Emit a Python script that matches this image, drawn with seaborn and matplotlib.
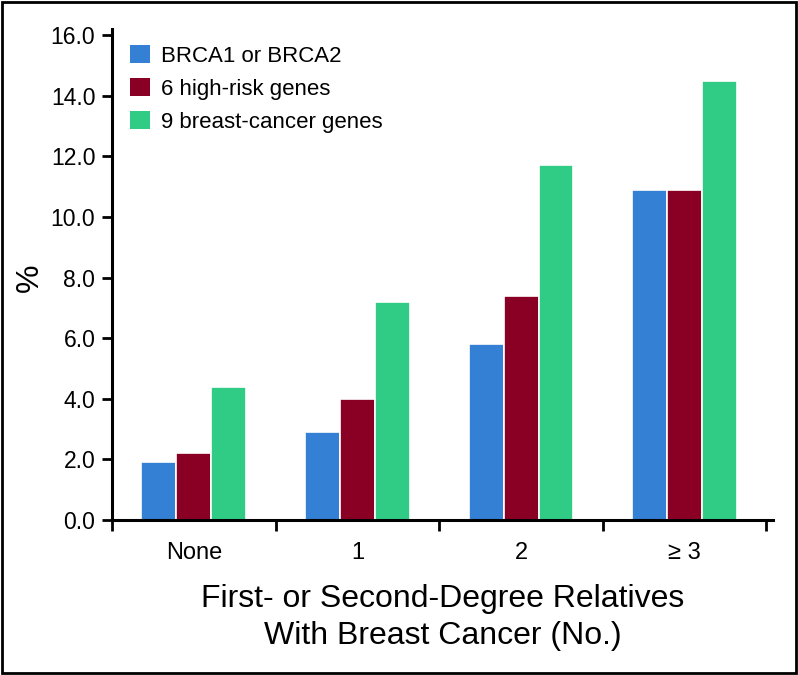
import pandas as pd
import seaborn as sns
from matplotlib import pyplot as plt
from matplotlib.patches import Rectangle


CATEGORIES = ["None", "1", "2", "\u2265 3"]
SERIES = ["BRCA1 or BRCA2", "6 high-risk genes", "9 breast-cancer genes"]
BRCA = [1.9, 2.9, 5.8, 10.9]
HIGH_RISK = [2.2, 4.0, 7.4, 10.9]
BREAST_CANCER = [4.4, 7.2, 11.7, 14.5]
Y_TICKS = [0, 2, 4, 6, 8, 10, 12, 14, 16]
COLORS = ["#3480d4", "#8a0024", "#30cc85"]


def main():
    rows = []
    for name, vals in zip(SERIES, [BRCA, HIGH_RISK, BREAST_CANCER]):
        for cat, v in zip(CATEGORIES, vals):
            rows.append({"group": cat, "series": name, "pct": v})
    df = pd.DataFrame(rows)

    sns.set_theme(style="ticks")
    plt.rcParams["font.family"] = ["Liberation Sans", "DejaVu Sans"]
    plt.rcParams.update({"text.color": "black", "axes.labelcolor": "black",
                         "xtick.color": "black", "ytick.color": "black"})

    fig = plt.figure(figsize=(7.98, 6.75), dpi=100)
    ax = fig.add_axes([0.1404, 0.2296, 0.8283, 0.7184])
    sns.barplot(df, x="group", y="pct", hue="series", order=CATEGORIES,
                hue_order=SERIES, palette=COLORS, width=0.64,
                edgecolor="white", linewidth=1.2, saturation=1, ax=ax)

    ax.set_ylim(0, 16)
    ax.set_xlim(-0.5, 3.54)
    ax.set_yticks(Y_TICKS)
    ax.set_yticklabels([f"{t:.1f}" for t in Y_TICKS], fontsize=16.5)
    ax.set_xticks(range(len(CATEGORIES)))
    ax.set_xticklabels(CATEGORIES, fontsize=17)
    ax.set_xticks([-0.5, 0.5, 1.5, 2.5, 3.5], minor=True)
    ax.tick_params(axis="x", which="major", length=0, pad=16)
    ax.tick_params(axis="x", which="minor", length=8, width=2, direction="out")
    ax.tick_params(axis="y", length=7, width=2, direction="out", pad=5)
    for s in ["left", "bottom"]:
        ax.spines[s].set_linewidth(2.2)
        ax.spines[s].set_color("black")
    sns.despine(ax=ax)
    ax.spines["left"].set_bounds(0, 16.2)

    ax.set_ylabel("%", fontsize=23, labelpad=4)
    ax.set_xlabel("First- or Second-Degree Relatives\nWith Breast Cancer (No.)",
                  fontsize=23, labelpad=14, linespacing=1.3)

    leg = ax.legend(loc="upper left", bbox_to_anchor=(130 / 798, 1 - 45 / 675),
                    bbox_transform=fig.transFigure, frameon=False,
                    fontsize=16, handlelength=0.9, handleheight=0.9,
                    handletextpad=0.5, labelspacing=0.5, borderaxespad=0, borderpad=0)
    for h in leg.legend_handles:
        h.set_edgecolor("none")

    fig.patches.append(Rectangle((0.002, 0.003), 0.995, 0.994, transform=fig.transFigure,
                                 fill=False, edgecolor="black", linewidth=2))
    fig.savefig("out.png", dpi=100)


if __name__ == "__main__":
    main()
